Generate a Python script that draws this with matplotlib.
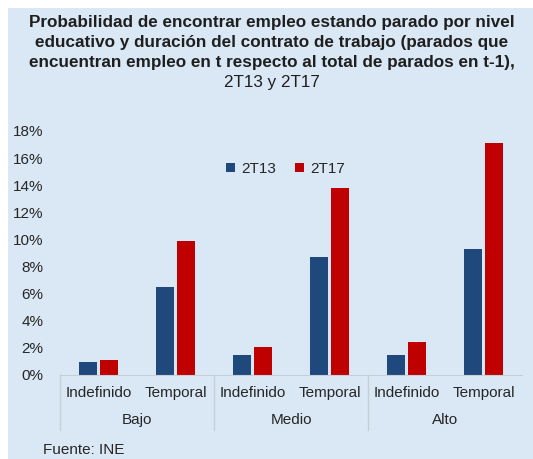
import matplotlib
matplotlib.use("Agg")
import matplotlib.pyplot as plt
import matplotlib.patches as mpatches
import numpy as np

plt.rcParams["font.family"] = ["Liberation Sans", "DejaVu Sans"]

niveles = ["Bajo", "Medio", "Alto"]
contratos = ["Indefinido", "Temporal"]
series = ["2T13", "2T17"]
# valores en % (nivel x contrato)
v_2t13 = [0.95, 6.5, 1.5, 8.7, 1.5, 9.3]
v_2t17 = [1.1, 9.9, 2.1, 13.8, 2.4, 17.1]
yticks = [0, 2, 4, 6, 8, 10, 12, 14, 16, 18]
titulo = ["Probabilidad de encontrar empleo estando parado por nivel",
          "educativo y duración del contrato de trabajo (parados que",
          "encuentran empleo en t respecto al total de parados en t-1),",
          "2T13 y 2T17"]

c_13 = "#1F497D"
c_17 = "#C00000"
panel = "#DAE8F5"
txt = "#262626"

fig = plt.figure(figsize=(5.33, 4.59), dpi=100)
fig.patch.set_facecolor("white")
fig.patches.append(mpatches.Rectangle((8 / 533, 0), 1, 1 - 8 / 459,
                                      transform=fig.transFigure,
                                      facecolor=panel, edgecolor="none", zorder=-10))

ax = fig.add_axes([60 / 533, 1 - 375 / 459, 462 / 533, 244 / 459])
ax.set_facecolor(panel)

x = np.arange(len(v_2t13))
w = 0.23
ax.bar(x - w / 2 - 0.025, v_2t13, w, color=c_13, label=series[0])
ax.bar(x + w / 2 + 0.025, v_2t17, w, color=c_17, label=series[1])

ax.set_xlim(-0.5, len(x) - 0.5)
ax.set_ylim(0, 18)
ax.set_yticks(yticks)
ax.set_yticklabels([f"{t}%" for t in yticks], fontsize=11, color=txt)
ax.tick_params(axis="y", length=0, pad=12)
ax.set_xticks([])
for s in ["top", "right", "left"]:
    ax.spines[s].set_visible(False)
ax.spines["bottom"].set_color("#C8CED6")

# ejes de categorías jerárquicas
trans = ax.get_xaxis_transform()
for i, xi in enumerate(x):
    ax.text(xi, -0.075, contratos[i % 2], transform=trans, ha="center",
            va="center", fontsize=11, color=txt)
for g, nombre in enumerate(niveles):
    ax.text(2 * g + 0.5, -0.185, nombre, transform=trans, ha="center",
            va="center", fontsize=11, color=txt)
for b in [-0.5, 1.5, 3.5]:
    ax.plot([b, b], [0, -0.225], transform=trans, color="#C8CED6",
            lw=1, clip_on=False)

ax.legend(loc="upper left", bbox_to_anchor=(0.33, 0.93), ncol=2, frameon=False,
          fontsize=11, handlelength=0.6, handleheight=0.6, handletextpad=0.4,
          columnspacing=1.2, labelcolor=txt)

for k, linea in enumerate(titulo):
    fig.text(0.51, 1 - (22 + 20 * k) / 459, linea, ha="center", va="center",
             fontsize=12.3, fontweight="bold" if k < 3 else "normal",
             color="#1F1F1F")
fig.text(43 / 533, 1 - 450 / 459, "Fuente: INE", ha="left", va="center",
         fontsize=11, color=txt)

fig.savefig("out.png", dpi=100, facecolor=fig.get_facecolor())
